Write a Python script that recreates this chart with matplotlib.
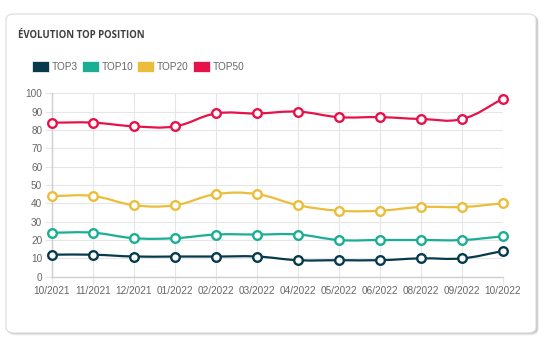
"""Line chart of keyword counts per ranking bracket, drawn inside a rounded card."""
import matplotlib
matplotlib.use("Agg")
import matplotlib.pyplot as plt
import numpy as np
from matplotlib.patches import FancyBboxPatch, Rectangle
from matplotlib.path import Path
from matplotlib.patches import PathPatch

months = ["10/2021", "11/2021", "12/2021", "01/2022", "02/2022", "03/2022",
          "04/2022", "05/2022", "06/2022", "08/2022", "09/2022", "10/2022"]
top3 = [12, 12, 11, 11, 11, 11, 9, 9, 9, 10, 10, 14]
top10 = [24, 24, 21, 21, 23, 23, 23, 20, 20, 20, 20, 22]
top20 = [44, 44, 39, 39, 45, 45, 39, 36, 36, 38, 38, 40]
top50 = [84, 84, 82, 82, 89, 89, 90, 87, 87, 86, 86, 97]

series = [("TOP3", top3, "#073b4c"),
          ("TOP10", top10, "#1aaf94"),
          ("TOP20", top20, "#ebbd3a"),
          ("TOP50", top50, "#e6134b")]

W, H = 546, 344
TEXT = "#666666"
GRID = "#e6e6e6"
FONT = "Liberation Sans"

fig = plt.figure(figsize=(W / 100, H / 100), dpi=100)
fig.patch.set_facecolor("white")


def fx(px):
    return px / W


def fy(py):
    return 1 - py / H


# card with a soft shadow on the right / bottom
for i, a in enumerate([0.05, 0.08, 0.12]):
    off = 3 - i
    fig.patches.append(FancyBboxPatch(
        (fx(6 + off * 0.6), fy(333 + off * 0.8)), fx(531), 319 / H,
        boxstyle="round,pad=0,rounding_size=0.016", transform=fig.transFigure,
        facecolor="#000000", edgecolor="none", alpha=a, zorder=0))
fig.patches.append(FancyBboxPatch(
    (fx(6), fy(333)), fx(530), 319 / H,
    boxstyle="round,pad=0,rounding_size=0.016", transform=fig.transFigure,
    facecolor="white", edgecolor="#dcdcdc", lw=0.8, zorder=1))

fig.text(fx(18), fy(35), "ÉVOLUTION TOP POSITION", ha="left", va="center",
         fontsize=6.9, fontweight="bold", family="Open Sans", color="#3f3f3f",
         zorder=3)

# legend boxes
lx = [32, 82, 137, 193]
for (name, _, col), x0 in zip(series, lx):
    fig.patches.append(Rectangle((fx(x0), fy(72)), fx(17), 11 / H,
                                 transform=fig.transFigure, facecolor=col,
                                 edgecolor="white", lw=0.5, zorder=3))
    fig.text(fx(x0 + 20), fy(66.5), name, ha="left", va="center",
             fontsize=7.2, family=FONT, color=TEXT, zorder=3)

ax = fig.add_axes([fx(52), fy(276.7), fx(503 - 52), (276.7 - 93.3) / H])
ax.set_facecolor("none")
ax.set_zorder(2)
x = np.arange(len(months))
ax.set_xlim(0, len(months) - 1)
ax.set_ylim(0, 100)
ax.set_yticks(range(0, 101, 10))
ax.set_xticks(x)
ax.set_xticklabels(months)
ax.tick_params(labelsize=7.2, colors=TEXT, length=5, width=0.8, pad=2)
ax.tick_params(axis="x", color=GRID)
ax.tick_params(axis="y", color=GRID)
for lab in ax.get_xticklabels() + ax.get_yticklabels():
    lab.set_family(FONT)
ax.grid(True, color=GRID, lw=0.8)
ax.set_axisbelow(True)
for s in ["top", "right"]:
    ax.spines[s].set_visible(False)
for s in ["left", "bottom"]:
    ax.spines[s].set_color("#cfcfcf")
    ax.spines[s].set_linewidth(1.0)


def spline_path(xs, ys, tension=0.4):
    # cubic bezier through the points, control points as in Chart.js
    pts = ax.transData.transform(np.column_stack([xs, ys]))
    n = len(pts)
    verts = [pts[0]]
    codes = [Path.MOVETO]
    ctrl_prev, ctrl_next = [], []
    for i in range(n):
        p0 = pts[max(i - 1, 0)]
        p1 = pts[i]
        p2 = pts[min(i + 1, n - 1)]
        d01 = np.hypot(*(p1 - p0))
        d12 = np.hypot(*(p2 - p1))
        tot = d01 + d12
        s01 = d01 / tot if tot else 0
        s12 = d12 / tot if tot else 0
        ctrl_prev.append(p1 - tension * s01 * (p2 - p0))
        ctrl_next.append(p1 + tension * s12 * (p2 - p0))
    for i in range(1, n):
        verts += [ctrl_next[i - 1], ctrl_prev[i], pts[i]]
        codes += [Path.CURVE4] * 3
    verts = ax.transData.inverted().transform(np.array(verts))
    return Path(verts, codes)


fig.canvas.draw()
for name, vals, col in series:
    ax.add_patch(PathPatch(spline_path(x, vals), facecolor="none",
                           edgecolor=col, lw=1.6, zorder=3, clip_on=False))
    ax.plot(x, vals, ls="none", marker="o", ms=6.2, mfc="white", mec=col,
            mew=1.7, zorder=4, clip_on=False)

fig.savefig("out.png", dpi=100, facecolor="white")
